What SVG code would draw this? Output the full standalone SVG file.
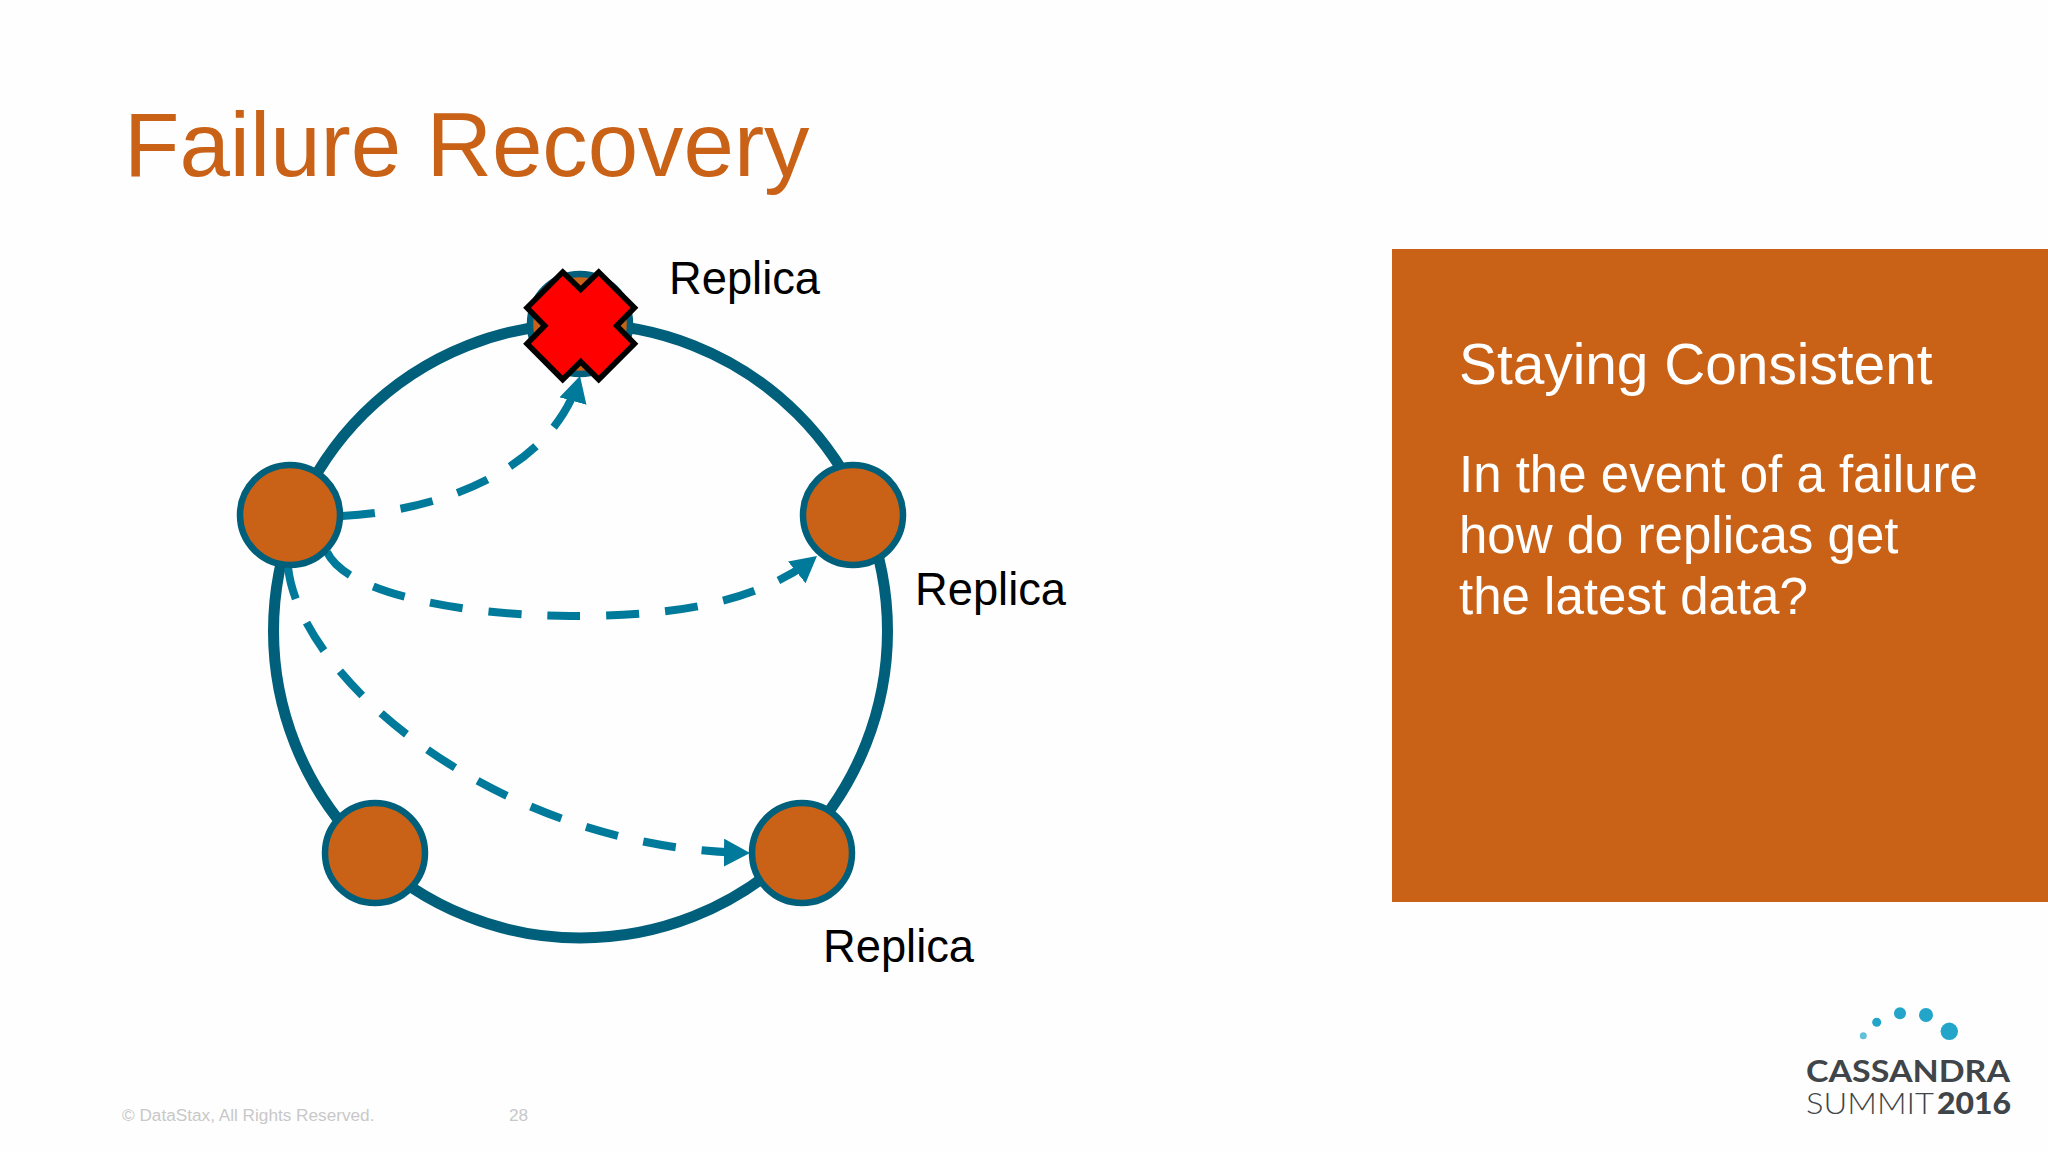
<svg xmlns="http://www.w3.org/2000/svg" width="2048" height="1152" viewBox="0 0 2048 1152">
<defs>
<style>
text{font-family:"Liberation Sans",Arial,sans-serif}
.node{fill:#c96116;stroke:#005f7a;stroke-width:6.500}
.flow{fill:none;stroke:#007a9a;stroke-width:8;stroke-dasharray:33 26}
.lbl{font-size:45.300px;fill:#000}
.body{font-size:51px;fill:#fff}
.foot{font-size:17.200px;fill:#c8c8c8}
.logo{font-family:Lato,"Liberation Sans",sans-serif;fill:#3f4548}
.dot{fill:#22a5c8}
</style>
<marker id="arrow" markerUnits="userSpaceOnUse" markerWidth="28" markerHeight="30" refX="26" refY="14" orient="auto"><path d="M0,0 L26,14 L0,28 Z" fill="#007a9a"/></marker>
</defs>
<rect width="2048" height="1152" fill="#fefefe"/>
<text x="124" y="176" font-size="90.700" fill="#c96116">Failure Recovery</text>
<g id="ring"><circle cx="580.500" cy="631" r="307" fill="none" stroke="#005f7a" stroke-width="11"/></g>
<g id="connectors">
<path class="flow" d="M342,516 C450,510 555,465 580,376" marker-end="url(#arrow)"/>
<path class="flow" d="M327,552 C350,600 490,616 570,616 C650,616 750,610 817,556" marker-end="url(#arrow)"/>
<path class="flow" d="M288,567 C300,680 500,850 750,853" marker-end="url(#arrow)"/>
</g>
<g id="node-top"><circle class="node" cx="580" cy="324" r="50"/>
<path d="M562.700,272 L580.700,289.500 L598.700,272 L634.500,307.700 L616.700,325.700 L634.500,343.700 L598.700,379.500 L580.700,361.700 L562.700,379.500 L527,343.700 L544.700,325.700 L527,307.700 Z" fill="#f00" stroke="#000" stroke-width="5.500"/></g>
<g id="node-left"><circle class="node" cx="290" cy="515" r="50"/></g>
<g id="node-right"><circle class="node" cx="853" cy="515" r="50"/></g>
<g id="node-bottom-left"><circle class="node" cx="375" cy="853" r="50"/></g>
<g id="node-bottom-right"><circle class="node" cx="802" cy="853" r="50"/></g>
<text class="lbl" x="669" y="294">Replica</text>
<text class="lbl" x="915" y="605">Replica</text>
<text class="lbl" x="823" y="962">Replica</text>
<g id="panel">
<rect x="1392" y="249" width="656" height="653" fill="#c96116"/>
<text x="1459" y="384" font-size="56.800" fill="#fff">Staying Consistent</text>
<text class="body" x="1459" y="492">In the event of a failure</text>
<text class="body" x="1459" y="553">how do replicas get</text>
<text class="body" x="1459" y="614">the latest data?</text>
</g>
<text class="foot" x="122" y="1121">© DataStax, All Rights Reserved.</text>
<text class="foot" x="509" y="1121">28</text>
<g id="logo">
<circle class="dot" cx="1863.300" cy="1035.700" r="3.500" fill-opacity=".7"/>
<circle class="dot" cx="1876.700" cy="1022.300" r="4.500"/>
<circle class="dot" cx="1900" cy="1013.300" r="6"/>
<circle class="dot" cx="1926" cy="1015" r="7"/>
<circle class="dot" cx="1949.300" cy="1031.300" r="8.700"/>
<text class="logo" x="1806" y="1081.500" font-size="30" font-weight="700" textLength="204" lengthAdjust="spacingAndGlyphs">CASSANDRA</text>
<text class="logo" x="1806" y="1113.500" font-size="29" font-weight="300" textLength="128" lengthAdjust="spacingAndGlyphs">SUMMIT</text>
<text class="logo" x="1937" y="1113.500" font-size="30" font-weight="900" textLength="74" lengthAdjust="spacingAndGlyphs">2016</text>
</g>
</svg>
